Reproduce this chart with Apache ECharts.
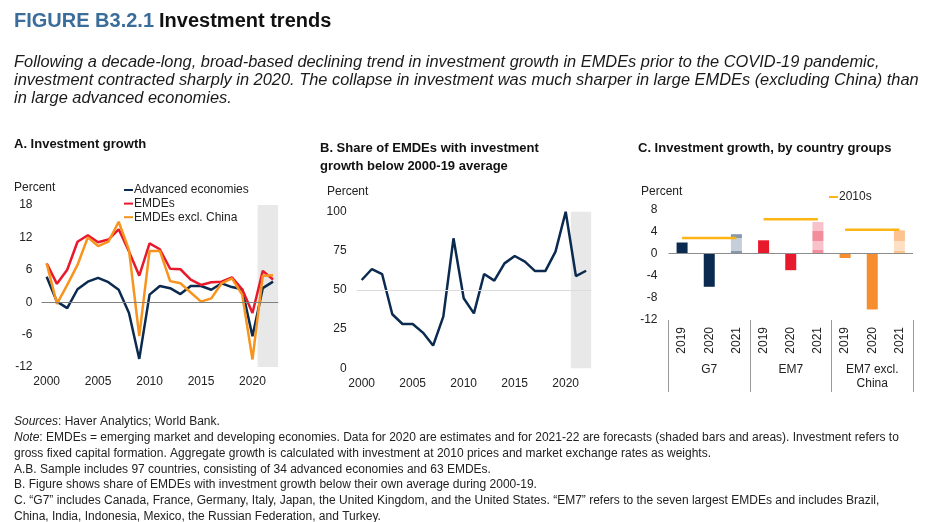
<!DOCTYPE html>
<html>
<head>
<meta charset="utf-8">
<script src="https://cdn.jsdelivr.net/npm/echarts@6/dist/echarts.min.js"></script>
<style>
html,body{margin:0;padding:0;background:#fff;}
#c{width:928px;height:522px;}
</style>
</head>
<body>
<div id="c"></div>
<script>
// ---- Data ----
const years = [2000,2001,2002,2003,2004,2005,2006,2007,2008,2009,2010,2011,2012,2013,2014,2015,2016,2017,2018,2019,2020,2021,2022];
const advanced = [4.7,0.1,-1.1,2.4,3.8,4.5,3.7,2.3,-2.0,-10.5,1.4,3.0,2.6,1.5,3.0,3.0,2.3,3.5,2.8,2.4,-6.3,2.6,3.8];
const emdes = [7.2,3.4,6.0,11.2,12.4,11.1,11.6,13.5,9.4,4.9,10.9,9.8,6.2,6.1,4.2,3.2,3.7,3.8,4.6,2.4,-2.0,5.8,4.2];
const emdesExChina = [7.2,-0.3,3.2,6.9,12.0,10.4,11.2,14.9,9.7,-6.3,9.5,9.5,3.9,3.5,1.8,0.1,0.7,3.5,4.4,1.4,-10.6,4.9,5.0];
const shareBelowAvg = [56.4,63.4,60.2,34.5,28.3,28.3,22.8,14.5,33,83,44.7,35.1,60.2,56,67,71.7,68.1,62.1,62.1,74.5,100,58.9,62.3];
const forecastYears = [2021,2022];
const yearTicks = [2000,2005,2010,2015,2020];

const groups = ['G7','EM7','EM7 excl.\nChina'];
const periods = ['2019','2020','2021'];
const g7 = [2.0,-6.0,3.5];
const em7 = [2.4,-3.0,5.7];
const em7ExChina = [-0.8,-10.1,4.2];
const avg2010s = [2.8,6.2,4.3];

// ---- Styles ----
const NAVY = '#0b2a4f', RED = '#e8192c', ORANGE = '#f7941d', GOLD = '#fdb515';
const FONT = 'Liberation Sans, Arial, sans-serif';
const barSolid = [NAVY, RED, '#f68d2e'];
function vgrad(stops){
  return {type:'linear',x:0,y:0,x2:0,y2:1,colorStops:stops};
}
const barForecast = [
  vgrad([{offset:0,color:'#8797ad'},{offset:0.2,color:'#8797ad'},{offset:0.2,color:'#c6ced9'},{offset:0.85,color:'#c6ced9'},{offset:0.85,color:'#8797ad'},{offset:1,color:'#8797ad'}]),
  vgrad([{offset:0,color:'#f9c1c9'},{offset:0.3,color:'#f9c1c9'},{offset:0.3,color:'#f28e9b'},{offset:0.6,color:'#f28e9b'},{offset:0.6,color:'#f9c1c9'},{offset:0.9,color:'#f9c1c9'},{offset:0.9,color:'#f28e9b'},{offset:1,color:'#f28e9b'}]),
  vgrad([{offset:0,color:'#fcc28f'},{offset:0.45,color:'#fcc28f'},{offset:0.45,color:'#fde0c4'},{offset:0.9,color:'#fde0c4'},{offset:0.9,color:'#fcc28f'},{offset:1,color:'#fcc28f'}])
];

const groupVals = [g7, em7, em7ExChina];
const catLabels = [];
const barData = [];
groupVals.forEach((vals, gi) => {
  vals.forEach((v, pi) => {
    catLabels.push(periods[pi]);
    barData.push({value: v, itemStyle: {color: pi === 2 ? barForecast[gi] : barSolid[gi]}});
  });
});
const avgSeries = avg2010s.map((v, gi) => {
  const d = catLabels.map(() => '-');
  for (let k = 0; k < periods.length; k++) d[gi*periods.length + k] = v;
  return {
    name:'2010s', type:'line', xAxisIndex:2, yAxisIndex:2, data:d, symbol:'none',
    lineStyle:{color:GOLD,width:2.5}, itemStyle:{color:GOLD}, z:5, silent:true
  };
});

const pair = arr => years.map((y,i)=>[y,arr[i]]);
const shade = [[{xAxis: forecastYears[0]-0.5},{xAxis: forecastYears[forecastYears.length-1]+0.5}]];

const axisLbl = {color:'#222', fontSize:12, fontFamily:FONT};
const yearFmt = v => String(Math.round(v));

function txt(text, left, top, style){
  return {text, left, top, padding:0, textStyle:Object.assign({fontFamily:FONT, fontSize:12, color:'#222', fontWeight:'normal'}, style||{})};
}

const chart = echarts.init(document.getElementById('c'), null, {renderer:'canvas'});
chart.setOption({
  animation:false,
  backgroundColor:'#fff',
  title:[
    {text:'{a|FIGURE B3.2.1} {b|Investment trends}', left:14, top:11, padding:0,
      textStyle:{rich:{a:{color:'#3b6d9b',fontSize:20,fontWeight:'bold',fontFamily:FONT},b:{color:'#111',fontSize:20,fontWeight:'bold',fontFamily:FONT}}}},
    txt('Following a decade-long, broad-based declining trend in investment growth in EMDEs prior to the COVID-19 pandemic,\ninvestment contracted sharply in 2020. The collapse in investment was much sharper in large EMDEs (excluding China) than\nin large advanced economies.', 14, 53, {fontStyle:'italic', fontSize:16.4, lineHeight:18, color:'#1a1a1a'}),
    txt('A. Investment growth', 14, 138, {fontWeight:'bold', fontSize:13, color:'#111'}),
    txt('B. Share of EMDEs with investment\ngrowth below 2000-19 average', 320, 139, {fontWeight:'bold', fontSize:13, lineHeight:18, color:'#111'}),
    txt('C. Investment growth, by country groups', 638, 142, {fontWeight:'bold', fontSize:13, color:'#111'}),
    txt('Percent', 14, 182),
    txt('Percent', 327, 186),
    txt('Percent', 641, 186),
    {text:'{i|Sources}: Haver Analytics; World Bank.\n{i|Note}: EMDEs = emerging market and developing economies. Data for 2020 are estimates and for 2021-22 are forecasts (shaded bars and areas). Investment refers to\ngross fixed capital formation. Aggregate growth is calculated with investment at 2010 prices and market exchange rates as weights.\nA.B. Sample includes 97 countries, consisting of 34 advanced economies and 63 EMDEs.\nB. Figure shows share of EMDEs with investment growth below their own average during 2000-19.\nC. \u201cG7\u201d includes Canada, France, Germany, Italy, Japan, the United Kingdom, and the United States. \u201cEM7\u201d refers to the seven largest EMDEs and includes Brazil,\nChina, India, Indonesia, Mexico, the Russian Federation, and Turkey.',
      left:14, top:414, padding:0,
      textStyle:{fontFamily:FONT, fontSize:12, fontWeight:'normal', lineHeight:15.8, color:'#222',
        rich:{i:{fontStyle:'italic', fontWeight:'normal', fontFamily:FONT, fontSize:12, lineHeight:15.8, color:'#222'}}}}
  ],
  legend:[
    {data:['Advanced economies','EMDEs','EMDEs excl. China'], orient:'vertical', left:124, top:184,
      icon:'rect', itemWidth:9, itemHeight:2, itemGap:1.6, padding:0,
      textStyle:{fontFamily:FONT, fontSize:12, color:'#222', padding:[0,0,0,-4]}},
    {data:['2010s'], left:829, top:191, icon:'rect', itemWidth:9, itemHeight:2, padding:0,
      textStyle:{fontFamily:FONT, fontSize:12, color:'#222', padding:[0,0,0,-4]}}
  ],
  grid:[
    {left:41.5, top:205, width:236.7, height:162},
    {left:356.6, top:211.7, width:234.6, height:156.6},
    {left:668.5, top:209.3, width:244.5, height:110.7}
  ],
  xAxis:[
    {type:'value', gridIndex:0, min:1999.5, max:2022.5, axisLine:{show:false}, axisTick:{show:false}, splitLine:{show:false},
      axisLabel:Object.assign({customValues:yearTicks, margin:9, formatter:yearFmt}, axisLbl)},
    {type:'value', gridIndex:1, min:1999.5, max:2022.5, axisLine:{show:false}, axisTick:{show:false}, splitLine:{show:false},
      axisLabel:Object.assign({customValues:yearTicks, margin:9, formatter:yearFmt}, axisLbl)},
    {type:'category', gridIndex:2, data:catLabels, position:'bottom', axisLine:{show:false, onZero:false}, axisTick:{show:false},
      axisLabel:Object.assign({rotate:90, interval:0, margin:7}, axisLbl)},
    {type:'category', gridIndex:2, data:groups, position:'bottom', axisLine:{show:false, onZero:false},
      axisTick:{show:true, length:72, interval:0, lineStyle:{color:'#999', width:1}},
      axisLabel:Object.assign({interval:0, margin:43, lineHeight:14}, axisLbl)}
  ],
  yAxis:[
    {type:'value', gridIndex:0, min:-12, max:18, interval:6, axisLine:{show:false}, axisTick:{show:false}, splitLine:{show:false},
      axisLabel:Object.assign({margin:9}, axisLbl)},
    {type:'value', gridIndex:1, min:0, max:100, interval:25, axisLine:{show:false}, axisTick:{show:false}, splitLine:{show:false},
      axisLabel:Object.assign({margin:10}, axisLbl)},
    {type:'value', gridIndex:2, min:-12, max:8, interval:4, axisLine:{show:false}, axisTick:{show:false}, splitLine:{show:false},
      axisLabel:Object.assign({margin:11}, axisLbl)}
  ],
  series:[
    {name:'Advanced economies', type:'line', xAxisIndex:0, yAxisIndex:0, data:pair(advanced), symbol:'none',
      lineStyle:{color:NAVY, width:2.5}, itemStyle:{color:NAVY}, z:3,
      markArea:{silent:true, itemStyle:{color:'#e8e8e8'}, data:shade},
      markLine:{silent:true, symbol:'none', label:{show:false}, lineStyle:{color:'#808080', width:1, type:'solid'}, data:[{yAxis:0}]}},
    {name:'EMDEs', type:'line', xAxisIndex:0, yAxisIndex:0, data:pair(emdes), symbol:'none',
      lineStyle:{color:RED, width:2.5}, itemStyle:{color:RED}, z:3},
    {name:'EMDEs excl. China', type:'line', xAxisIndex:0, yAxisIndex:0, data:pair(emdesExChina), symbol:'none',
      lineStyle:{color:ORANGE, width:2.5}, itemStyle:{color:ORANGE}, z:4},
    {name:'Share below average', type:'line', xAxisIndex:1, yAxisIndex:1, data:pair(shareBelowAvg), symbol:'none',
      lineStyle:{color:NAVY, width:2.5}, itemStyle:{color:NAVY}, z:3,
      markArea:{silent:true, itemStyle:{color:'#e8e8e8'}, data:shade},
      markLine:{silent:true, symbol:'none', label:{show:false}, lineStyle:{color:'#dcdcdc', width:1, type:'solid'}, data:[{yAxis:50}]}},
    {name:'bars', type:'bar', xAxisIndex:2, yAxisIndex:2, data:barData, barWidth:11, z:2,
      markLine:{silent:true, symbol:'none', label:{show:false}, lineStyle:{color:'#8c8c8c', width:1, type:'solid'}, data:[{yAxis:0}]}},
    ...avgSeries
  ]
});
</script>
</body>
</html>
